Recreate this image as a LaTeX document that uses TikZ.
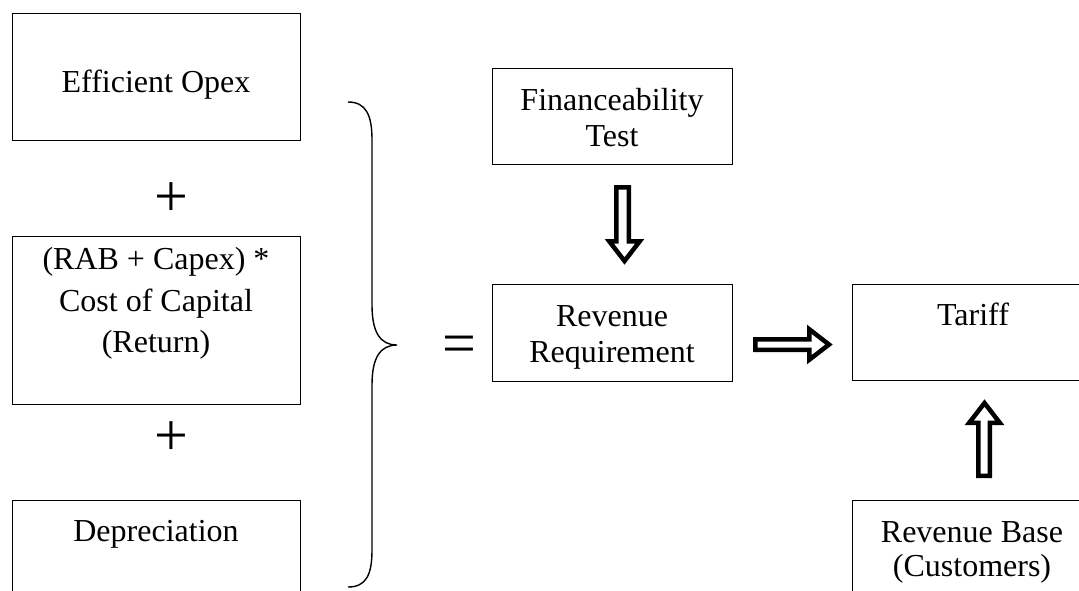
\documentclass[tikz,border=0pt]{standalone}
\usepackage{fontspec}
\setmainfont{Liberation Serif}
\begin{document}
\begin{tikzpicture}[x=1pt,y=-1pt,
  box/.style={draw,line width=1.2pt,rectangle,inner sep=0pt,anchor=north west},
  txt/.style={font=\fontsize{32}{36}\selectfont,anchor=base,inner sep=0pt},
  sym/.style={font=\fontsize{60}{60}\selectfont,anchor=base,inner sep=0pt},
  blk/.style={draw,line width=4.5pt,fill=white,line join=miter},
  brace/.style={draw,line width=1.4pt}]
\useasboundingbox (0,0) rectangle (1079,590);
\clip (0,0) rectangle (1079,590);
% boxes
\node[box,minimum width=288pt,minimum height=127pt] (opex) at (12,13) {};
\node[box,minimum width=288pt,minimum height=168pt] (rab) at (12,236) {};
\node[box,minimum width=288pt,minimum height=120pt] (dep) at (12,500) {};
\node[box,minimum width=240pt,minimum height=96pt] (fin) at (492,68) {};
\node[box,minimum width=240pt,minimum height=97pt] (rev) at (492,284) {};
\node[box,minimum width=242pt,minimum height=96pt] (tar) at (852,284) {};
\node[box,minimum width=242pt,minimum height=120pt] (base) at (852,500) {};
% texts
\node[txt] (opexT) at (156,92) {Efficient Opex};
\node[txt] (rabT1) at (156,269) {(RAB + Capex) *};
\node[txt] (rabT2) at (156,311) {Cost of Capital};
\node[txt] (rabT3) at (156,352) {(Return)};
\node[txt] (depT) at (156,541) {Depreciation};
\node[txt] (finT1) at (612,110) {Financeability};
\node[txt] (finT2) at (612,146) {Test};
\node[txt] (revT1) at (612,326) {Revenue};
\node[txt] (revT2) at (612,362) {Requirement};
\node[txt] (tarT) at (973,325) {Tariff};
\node[txt] (baseT1) at (972,542) {Revenue Base};
\node[txt] (baseT2) at (972,576) {(Customers)};
% symbols
\node[sym] (plus1) at (171,216) {+};
\node[sym] (plus2) at (171,455) {+};
\node[sym] (eq) at (459,363) {=};
% brace
\draw[brace] (348,102) .. controls (366,102) and (372,115) .. (372,140) -- (372,305)
  .. controls (372,332) and (380,345) .. (397,345)
  .. controls (380,345) and (372,358) .. (372,385) -- (372,550)
  .. controls (372,575) and (366,587) .. (348,587);
% block arrows
\draw[blk] (616.25,187.25) -- (628.75,187.25) -- (628.75,241.25) -- (639.75,241.25) -- (624.5,261) -- (609.25,241.25) -- (616.25,241.25) -- cycle;
\draw[blk] (755.25,339.25) -- (809.25,339.25) -- (809.25,329.25) -- (829,344.5) -- (809.25,359.75) -- (809.25,349.75) -- (755.25,349.75) -- cycle;
\draw[blk] (978.25,475.75) -- (989.75,475.75) -- (989.75,422.75) -- (999.75,422.75) -- (984.5,403) -- (969.25,422.75) -- (978.25,422.75) -- cycle;
\end{tikzpicture}
\end{document}
